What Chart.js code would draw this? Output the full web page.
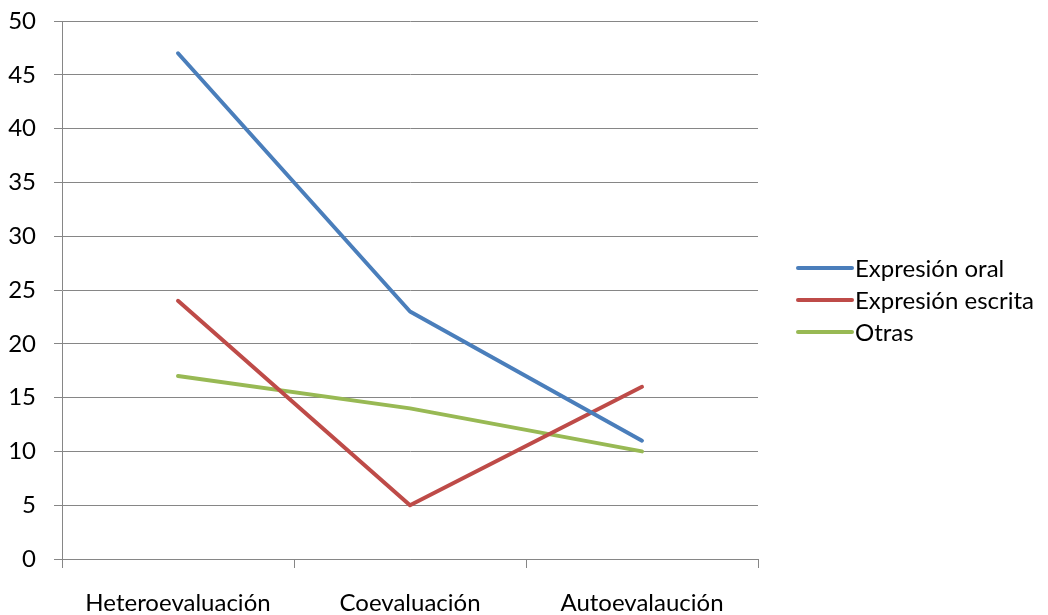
<!DOCTYPE html>
<html>
<head>
<meta charset="utf-8">
<script src="https://cdn.jsdelivr.net/npm/chart.js@4"></script>
<style>
  html, body { margin: 0; padding: 0; background: #fff; }
  canvas { display: block; }
</style>
</head>
<body>
<canvas id="chart" width="1048" height="615"></canvas>
<script>
// Series values per evaluation type
const categories = ["Heteroevaluación", "Coevaluación", "Autoevalaución"];
const expresionOral = [47, 23, 11];
const expresionEscrita = [24, 5, 16];
const otras = [17, 14, 10];
const seriesNames = ["Expresión oral", "Expresión escrita", "Otras"];

// Value axis range
const yMin = 0;
const yMax = 50;
const yStep = 5;

const FONT = { family: "Lato, 'Open Sans', sans-serif", size: 24 };
const GRID = "#868686";

// Legend to the right of the plot, drawn from the datasets
const sideLegend = {
  id: "sideLegend",
  afterDraw(chart) {
    const { ctx, chartArea } = chart;
    const x0 = chartArea.right + 40;
    const lineLen = 54;
    const rowH = 32;
    const top = 268;
    ctx.save();
    ctx.font = FONT.size + "px " + FONT.family;
    ctx.textBaseline = "middle";
    ctx.textAlign = "left";
    chart.data.datasets.forEach((ds, i) => {
      const y = top + i * rowH;
      ctx.strokeStyle = ds.borderColor;
      ctx.lineWidth = ds.borderWidth;
      ctx.lineCap = "round";
      ctx.beginPath();
      ctx.moveTo(x0, y);
      ctx.lineTo(x0 + lineLen, y);
      ctx.stroke();
      ctx.fillStyle = "#000";
      ctx.fillText(ds.label, x0 + lineLen + 3, y + 1);
    });
    ctx.restore();
  }
};

const lineStyle = (color) => ({
  borderColor: color,
  backgroundColor: color,
  borderWidth: 4,
  borderCapStyle: "round",
  borderJoinStyle: "round",
  pointRadius: 0,
  pointHoverRadius: 0,
  tension: 0,
  fill: false
});

new Chart(document.getElementById("chart"), {
  type: "line",
  data: {
    labels: categories,
    datasets: [
      { label: seriesNames[0], data: expresionOral, ...lineStyle("#4A7EBB") },
      { label: seriesNames[1], data: expresionEscrita, ...lineStyle("#BE4B48") },
      { label: seriesNames[2], data: otras, ...lineStyle("#98B954") }
    ]
  },
  options: {
    responsive: false,
    animation: false,
    layout: { padding: { top: 21, right: 290, bottom: 0, left: 0 } },
    plugins: {
      legend: { display: false },
      tooltip: { enabled: false }
    },
    scales: {
      x: {
        offset: true,
        grid: {
          offset: true,
          drawOnChartArea: false,
          drawTicks: true,
          tickLength: 9,
          color: GRID
        },
        border: { color: GRID, width: 1 },
        ticks: { color: "#000", font: FONT, padding: 21, maxRotation: 0 },
        afterFit(scale) { scale.height = 56; }
      },
      y: {
        min: yMin,
        max: yMax,
        grid: { color: GRID, lineWidth: 1, tickLength: 8 },
        border: { color: GRID, width: 1 },
        ticks: { stepSize: yStep, color: "#000", font: FONT, padding: 18 },
        afterFit(scale) {
          scale.width = 62;
          // top label may overflow into the layout padding
          scale.paddingTop = 0;
          scale.paddingBottom = 0;
        }
      }
    }
  },
  plugins: [sideLegend]
});
</script>
</body>
</html>
